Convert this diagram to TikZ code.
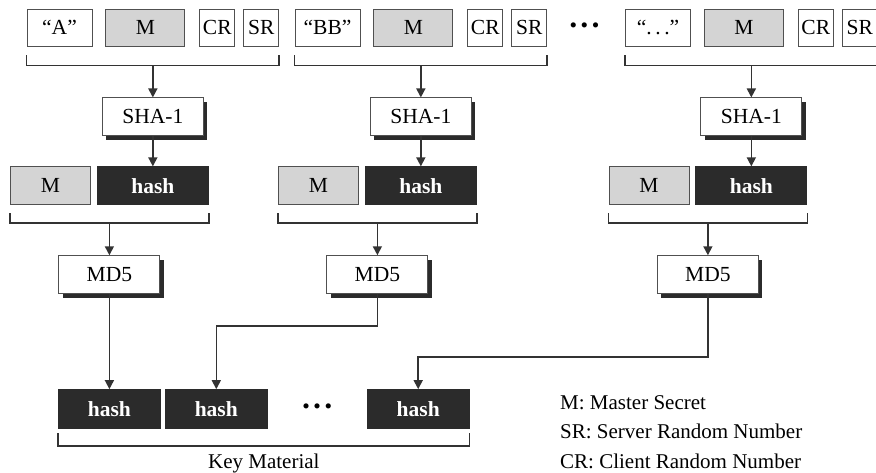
\documentclass[tikz,border=0pt]{standalone}
\usepackage{fontspec}
\setmainfont{Liberation Serif}
\usetikzlibrary{positioning, calc, arrows.meta, shadows}
\definecolor{cLine}{RGB}{51,51,51}
\definecolor{cEdge}{RGB}{80,80,80}
\definecolor{cGrayBox}{RGB}{212,212,212}
\definecolor{cDark}{RGB}{43,43,43}
\newcommand{\boxfont}{\fontsize{21.5}{25}\selectfont}
\newcommand{\notefont}{\fontsize{21}{25}\selectfont}
\tikzset{
	field/.style    ={rectangle, draw=cEdge, line width=0.9pt, fill=white, minimum height=37pt, inner sep=0pt, align=center, font=\boxfont},
	secret/.style   ={field, fill=cGrayBox},
	hashbox/.style  ={field, draw=cDark, fill=cDark, text=white, font=\boxfont\bfseries, minimum height=38pt},
	func/.style     ={field, minimum width=101pt, minimum height=38pt, drop shadow={shadow xshift=4pt, shadow yshift=-4pt, fill=cDark, opacity=1}},
	brace/.style    ={cLine, line width=1.6pt},
	flowarrow/.style={-{Triangle[length=9pt, width=9pt]}, cLine, line width=1.6pt},
	note/.style     ={font=\notefont, inner sep=0pt},
}
\begin{document}
\begin{tikzpicture}[x=1pt, y=-1pt]
	\useasboundingbox (0,0) rectangle (876,472);
	% first block
	\node[field, minimum width=65pt] (qa) at (59.5,27.5) {“A”};
	\node[secret, minimum width=79pt, right=13pt of qa] (ma) {M};
	\node[field, minimum width=35pt, right=14pt of ma] (cra) {CR};
	\node[field, minimum width=35pt, right=8pt of cra] (sra) {SR};
	\draw[brace] ([yshift=-9pt]qa.south west) -- ([yshift=-19pt]qa.south west) -- ([yshift=-19pt]sra.south east) -- ([yshift=-9pt]sra.south east);
	\coordinate (ja) at ($([yshift=-19pt]qa.south west)!0.5!([yshift=-19pt]sra.south east)$);
	\node[func, below=32pt of ja] (shaa) {SHA-1};
	\node[hashbox, minimum width=111pt, below=30pt of shaa] (ha) {hash};
	\node[secret, minimum width=80pt, minimum height=38pt, left=6pt of ha] (sma) {M};
	\draw[brace] ([yshift=-8pt]sma.south west) -- ([yshift=-18pt]sma.south west) -- ([yshift=-18pt]ha.south east) -- ([yshift=-8pt]ha.south east);
	\coordinate (ia) at ($([yshift=-18pt]sma.south west)!0.5!([yshift=-18pt]ha.south east)$);
	\node[func, below=32pt of ia] (mda) {MD5};
	\draw[flowarrow] (ja) -- (shaa);
	\draw[flowarrow] (shaa) -- (ha);
	\draw[flowarrow] (ia) -- (mda);
	% second block
	\node[field, minimum width=65pt] (qb) at (327.5,27.5) {“BB”};
	\node[secret, minimum width=79pt, right=13pt of qb] (mb) {M};
	\node[field, minimum width=35pt, right=14pt of mb] (crb) {CR};
	\node[field, minimum width=35pt, right=8pt of crb] (srb) {SR};
	\draw[brace] ([yshift=-9pt]qb.south west) -- ([yshift=-19pt]qb.south west) -- ([yshift=-19pt]srb.south east) -- ([yshift=-9pt]srb.south east);
	\coordinate (jb) at ($([yshift=-19pt]qb.south west)!0.5!([yshift=-19pt]srb.south east)$);
	\node[func, below=32pt of jb] (shab) {SHA-1};
	\node[hashbox, minimum width=111pt, below=30pt of shab] (hb) {hash};
	\node[secret, minimum width=80pt, minimum height=38pt, left=6pt of hb] (smb) {M};
	\draw[brace] ([yshift=-8pt]smb.south west) -- ([yshift=-18pt]smb.south west) -- ([yshift=-18pt]hb.south east) -- ([yshift=-8pt]hb.south east);
	\coordinate (ib) at ($([yshift=-18pt]smb.south west)!0.5!([yshift=-18pt]hb.south east)$);
	\node[func, below=32pt of ib] (mdb) {MD5};
	\draw[flowarrow] (jb) -- (shab);
	\draw[flowarrow] (shab) -- (hb);
	\draw[flowarrow] (ib) -- (mdb);
	\node[font=\boxfont, inner sep=0pt] (moreb) at (584.5,28) {•\,•\,•};
	% last block
	\node[field, minimum width=65pt] (qc) at (658,27.5) {“.\,.\,.”};
	\node[secret, minimum width=79pt, right=13pt of qc] (mc) {M};
	\node[field, minimum width=35pt, right=14pt of mc] (crc) {CR};
	\node[field, minimum width=35pt, right=8pt of crc] (src) {SR};
	\draw[brace] ([yshift=-9pt]qc.south west) -- ([yshift=-19pt]qc.south west) -- ([yshift=-19pt]src.south east) -- ([yshift=-9pt]src.south east);
	\coordinate (jc) at ($([yshift=-19pt]qc.south west)!0.5!([yshift=-19pt]src.south east)$);
	\node[func, below=32pt of jc] (shac) {SHA-1};
	\node[hashbox, minimum width=111pt, below=30pt of shac] (hc) {hash};
	\node[secret, minimum width=80pt, minimum height=38pt, left=6pt of hc] (smc) {M};
	\draw[brace] ([yshift=-8pt]smc.south west) -- ([yshift=-18pt]smc.south west) -- ([yshift=-18pt]hc.south east) -- ([yshift=-8pt]hc.south east);
	\coordinate (ic) at ($([yshift=-18pt]smc.south west)!0.5!([yshift=-18pt]hc.south east)$);
	\node[func, below=32pt of ic] (mdc) {MD5};
	\draw[flowarrow] (jc) -- (shac);
	\draw[flowarrow] (shac) -- (hc);
	\draw[flowarrow] (ic) -- (mdc);
	% key material
	\node[hashbox, minimum width=102pt, minimum height=39pt, below=95pt of mda] (ka) {hash};
	\node[hashbox, minimum width=102pt, minimum height=39pt, right=4pt of ka] (kb) {hash};
	\node[hashbox, minimum width=102pt, minimum height=39pt, right=99pt of kb] (kc) {hash};
	\node[font=\boxfont, inner sep=0pt] (morek) at ($(kb)!0.5!(kc)$) {•\,•\,•};
	\draw[brace] ([yshift=-4pt]ka.south west) -- ([yshift=-17pt]ka.south west) -- ([yshift=-17pt]kc.south east) -- ([yshift=-4pt]kc.south east);
	\coordinate (jk) at ($([yshift=-17pt]ka.south west)!0.5!([yshift=-17pt]kc.south east)$);
	\node[note, below=8pt of jk] (keymat) {Key Material};
	\draw[flowarrow] (mda) -- (ka);
	\draw[flowarrow] (mdb.south) -- ++(0,32) -| (kb.north);
	\draw[flowarrow] (mdc.south) -- ++(0,63) -| (kc.north);
	% legend
	\node[note, anchor=base west] (lgm) at (560,409) {M: Master Secret};
	\node[note, anchor=base west] (lgsr) at (560,438.5) {SR: Server Random Number};
	\node[note, anchor=base west] (lgcr) at (560,468) {CR: Client Random Number};
\end{tikzpicture}
\end{document}
